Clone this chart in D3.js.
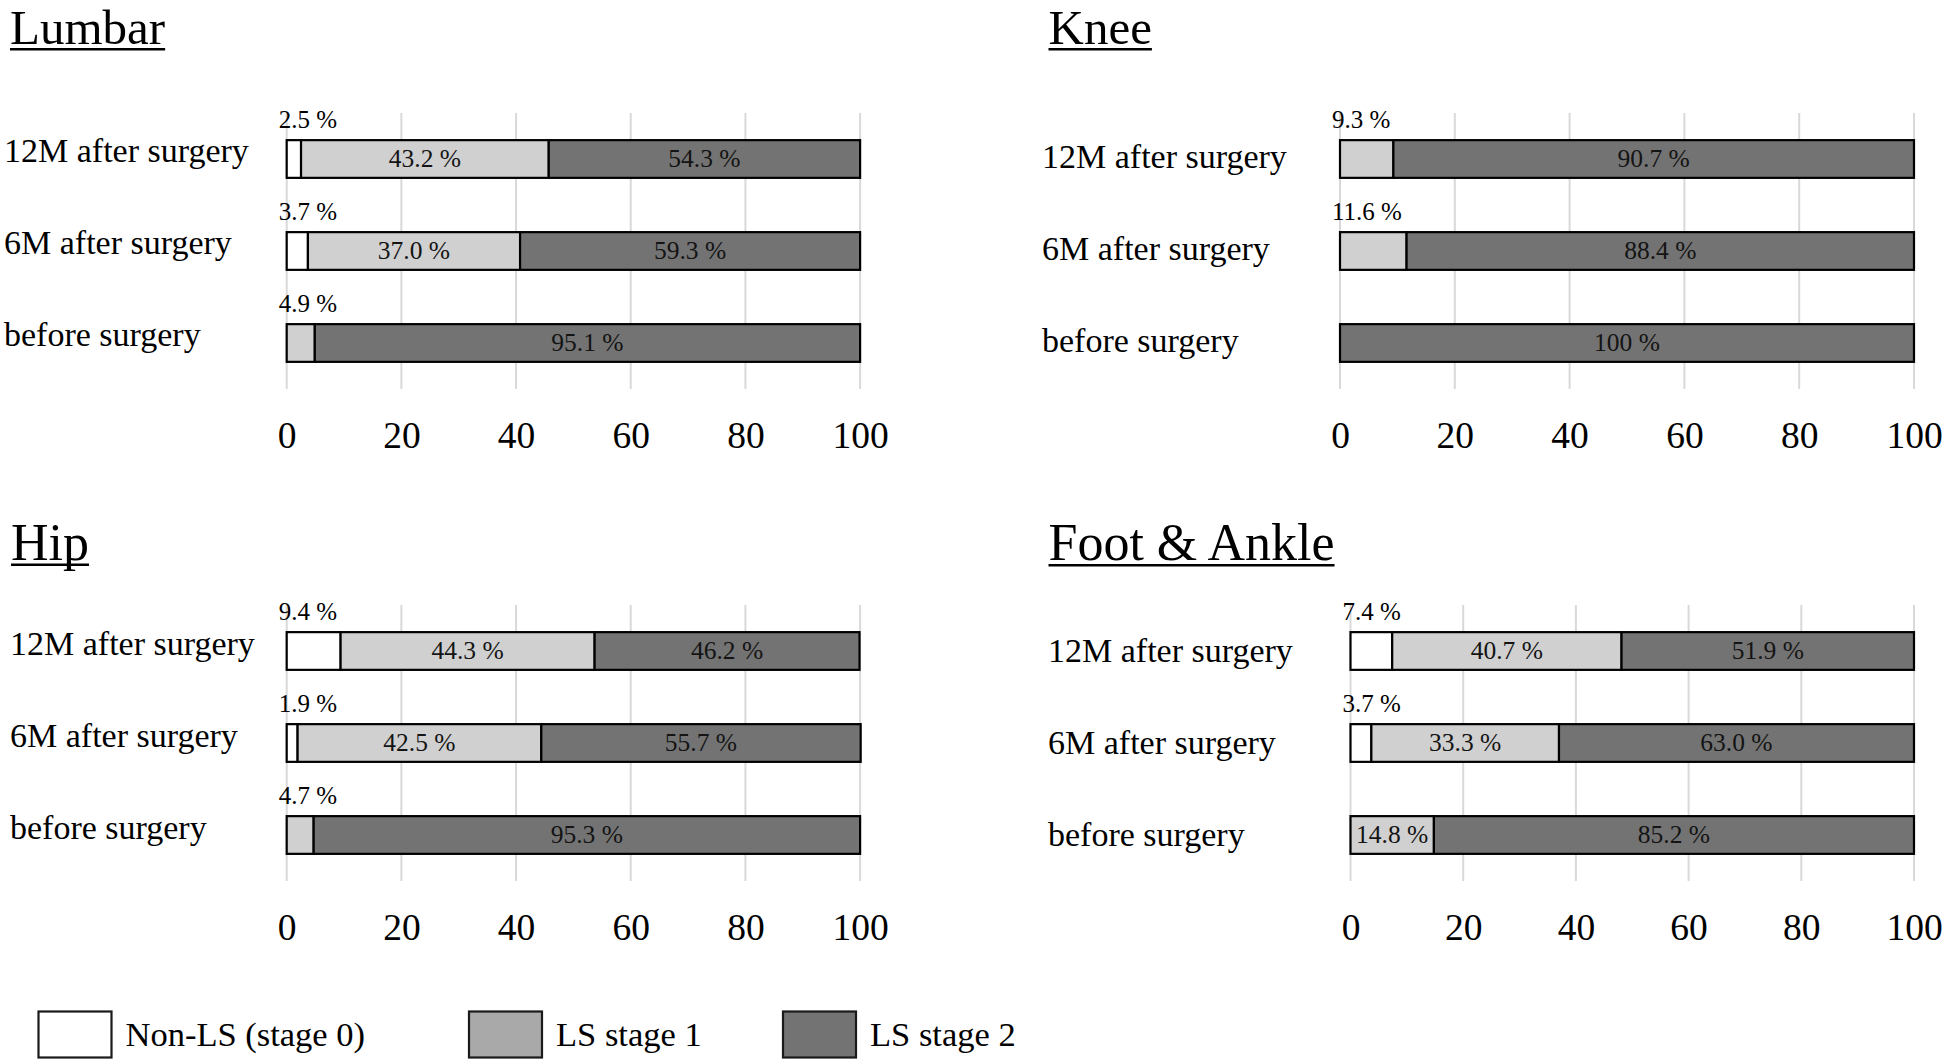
<!DOCTYPE html>
<html>
<head>
<meta charset="utf-8">
<script src="https://cdn.jsdelivr.net/npm/d3@7"></script>
<style>
  html, body { margin: 0; padding: 0; background: #fff; }
  svg { display: block; font-family: "Liberation Serif", "Times New Roman", serif; }
</style>
</head>
<body>
<svg id="chart" width="1946" height="1062"></svg>
<script>
// ---- data ----
const categories = ["12M after surgery", "6M after surgery", "before surgery"];
const stages = ["Non-LS (stage 0)", "LS stage 1", "LS stage 2"];
const tickValues = [0, 20, 40, 60, 80, 100];
const panelTitles = ["Lumbar", "Knee", "Hip", "Foot & Ankle"];

// values per category: [stage0, stage1, stage2]
const lumbarValues = [[2.5, 43.2, 54.3], [3.7, 37.0, 59.3], [0, 4.9, 95.1]];
const kneeValues   = [[0, 9.3, 90.7], [0, 11.6, 88.4], [0, 0, 100]];
const hipValues    = [[9.4, 44.3, 46.2], [1.9, 42.5, 55.7], [0, 4.7, 95.3]];
const footValues   = [[7.4, 40.7, 51.9], [3.7, 33.3, 63.0], [0, 14.8, 85.2]];

const barColors = ["#ffffff", "#d0d0d0", "#737373"];
const legendColors = ["#ffffff", "#a9a9a9", "#737373"];

// ---- layout ----
const panels = [
  { title: panelTitles[0], values: lumbarValues, x0: 286.7, x1: 860.1, gridTop: 113, titleX: 10, titleY: 44, labelX: 4, labelDy: 2.5 },
  { title: panelTitles[1], values: kneeValues,   x0: 1340.0, x1: 1914.0, gridTop: 113, titleX: 1048.5, titleY: 44, labelX: 1042, labelDy: 9 },
  { title: panelTitles[2], values: hipValues,    x0: 286.7, x1: 860.1, gridTop: 605, titleX: 11, titleY: 559.5, labelX: 10, labelDy: 4 },
  { title: panelTitles[3], values: footValues,   x0: 1350.5, x1: 1914.0, gridTop: 605, titleX: 1048.5, titleY: 560, labelX: 1048, labelDy: 11 }
];
const gridHeight = 276;

const svg = d3.select("#chart");
const fmt = v => v === 100 ? "100 %" : v.toFixed(1) + " %";

panels.forEach((p, pi) => {
  const g = svg.append("g");
  const x = d3.scaleLinear().domain([0, 100]).range([p.x0, p.x1]);
  const y = d3.scaleBand().domain(categories)
    .range([p.gridTop, p.gridTop + gridHeight])
    .paddingInner(0.59).paddingOuter(0.295);

  // title with underline
  const fs = pi < 2 ? 49 : 52;
  const t = g.append("text")
    .attr("x", p.titleX).attr("y", p.titleY)
    .attr("font-size", fs).attr("fill", "#000")
    .text(p.title);
  const tw = t.node().getComputedTextLength();
  g.append("line")
    .attr("x1", p.titleX).attr("x2", p.titleX + tw)
    .attr("y1", p.titleY + 5.3).attr("y2", p.titleY + 5.3)
    .attr("stroke", "#000").attr("stroke-width", 2.4);

  // gridlines
  g.selectAll("line.grid").data(tickValues).enter().append("line")
    .attr("class", "grid")
    .attr("x1", d => x(d)).attr("x2", d => x(d))
    .attr("y1", p.gridTop).attr("y2", p.gridTop + gridHeight)
    .attr("stroke", "#d9d9d9").attr("stroke-width", 2);

  // x axis labels
  const axis = d3.axisBottom(x).tickValues(tickValues).tickSize(0).tickPadding(0).tickFormat(d3.format("d"));
  const ax = g.append("g")
    .attr("transform", `translate(0, ${p.gridTop + gridHeight + 59})`)
    .call(axis);
  ax.select(".domain").remove();
  ax.selectAll("text")
    .attr("font-family", "Liberation Serif, Times New Roman, serif")
    .attr("font-size", 37.5).attr("fill", "#000")
    .attr("dy", 0).attr("y", 0);

  // category labels
  g.selectAll("text.cat").data(categories).enter().append("text")
    .attr("class", "cat")
    .attr("x", p.labelX)
    .attr("y", d => y(d) + y.bandwidth() / 2 + p.labelDy)
    .attr("font-size", 34).attr("fill", "#000")
    .text(d => d);

  // bars
  categories.forEach((cat, ci) => {
    const vals = p.values[ci];
    let cum = 0;
    const segs = vals.map((v, si) => { const s = { v, si, start: cum }; cum += v; return s; })
      .filter(s => s.v > 0);
    const by = y(cat), bh = y.bandwidth();
    g.selectAll(null).data(segs).enter().append("rect")
      .attr("x", s => x(s.start)).attr("y", by)
      .attr("width", s => x(s.start + s.v) - x(s.start))
      .attr("height", bh)
      .attr("fill", s => barColors[s.si])
      .attr("stroke", "#000").attr("stroke-width", 2.2);

    segs.forEach(s => {
      if (s.v < 12) {
        g.append("text")
          .attr("x", x(0) - 8).attr("y", by - 12)
          .attr("font-size", 25).attr("fill", "#000")
          .text(fmt(s.v));
      } else {
        g.append("text")
          .attr("x", x(s.start + s.v / 2)).attr("y", by + bh / 2 + 8)
          .attr("text-anchor", "middle")
          .attr("font-size", 25.5).attr("fill", "#141414")
          .text(fmt(s.v));
      }
    });
  });
});

// legend
const legendX = [38.5, 469, 783];
const lg = svg.append("g");
stages.forEach((s, i) => {
  lg.append("rect")
    .attr("x", legendX[i]).attr("y", 1011.5)
    .attr("width", 73).attr("height", 46)
    .attr("fill", legendColors[i])
    .attr("stroke", "#1a1a1a").attr("stroke-width", 2.2);
  lg.append("text")
    .attr("x", legendX[i] + 87).attr("y", 1046)
    .attr("font-size", 34.5).attr("fill", "#000")
    .text(s);
});
</script>
</body>
</html>
